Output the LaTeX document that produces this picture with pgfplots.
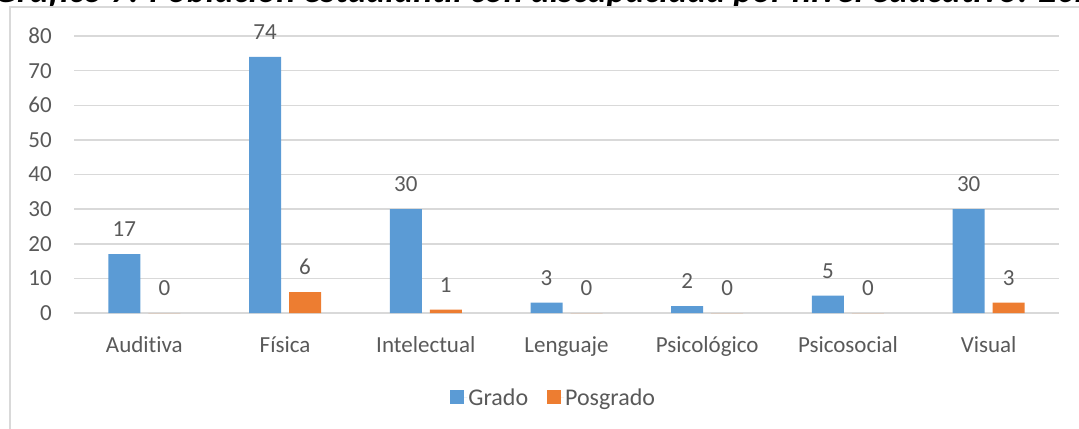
\documentclass[border=0pt]{standalone}
\usepackage{fontspec}
\setmainfont{Carlito}[Ligatures={NoCommon}]
\usepackage{pgfplots}
\pgfplotsset{compat=1.18}
\definecolor{cblue}{HTML}{5B9BD5}
\definecolor{corange}{HTML}{ED7D31}
\definecolor{ctext}{HTML}{595959}
\definecolor{cgrid}{HTML}{D9D9D9}
\newcommand{\lbl}{\fontsize{23bp}{27bp}\selectfont}
\begin{document}
\begin{tikzpicture}[x=1bp,y=1bp]
\node[anchor=base west, inner sep=0, font=\fontsize{36bp}{40bp}\selectfont\bfseries\itshape] at (-6,425.5) {Gráfico 7. Población estudiantil con discapacidad por nivel educativo. 2021};
\draw[cgrid, line width=1.5bp] (10,-5) -- (10,421) -- (1095,421);
\begin{axis}[
  at={(74bp,115bp)}, anchor=south west,
  scale only axis, width=985bp, height=277bp,
  ymin=0, ymax=80, xmin=-0.5, xmax=6.5,
  ytick={0,10,...,80},
  xtick={0,...,6},
  xticklabels={Auditiva,Física,Intelectual,Lenguaje,Psicológico,Psicosocial,Visual},
  axis line style={draw=none},
  major tick length=0pt,
  tick style={draw=none},
  ymajorgrids, grid style={cgrid, line width=1.5bp},
  /pgf/number format/assume math mode=true,
  ticklabel style={font=\lbl, text=ctext},
  yticklabel style={anchor=east, inner sep=0pt, xshift=-22bp},
  xticklabel style={anchor=base, inner sep=0pt, yshift=-39bp},
  ybar=8bp, bar width=32bp,
  nodes near coords,
  every node near coord/.append style={font=\lbl, text=ctext, anchor=south, inner sep=0pt, yshift=17bp},
  legend columns=2,
  legend style={at={(0.4865,-0.305)}, anchor=center, draw=none, fill=none,
    font=\fontsize{24bp}{28bp}\selectfont, text=ctext,
    /tikz/every even column/.append style={column sep=18bp},
    nodes={inner sep=1bp}},
  legend image code/.code={\fill[#1] (0bp,-7bp) rectangle (14bp,7bp); \path (0bp,0bp) -- (17bp,0bp);},
]
\addplot[fill=cblue, draw=none] coordinates {(0,17) (1,74) (2,30) (3,3) (4,2) (5,5) (6,30)};
\addplot[fill=corange, draw=none] coordinates {(0,0) (1,6) (2,1) (3,0) (4,0) (5,0) (6,3)};
\legend{Grado,Posgrado}
\end{axis}
\pgfresetboundingbox
\useasboundingbox (0,0) rectangle (1079,428);
\end{tikzpicture}
\end{document}
